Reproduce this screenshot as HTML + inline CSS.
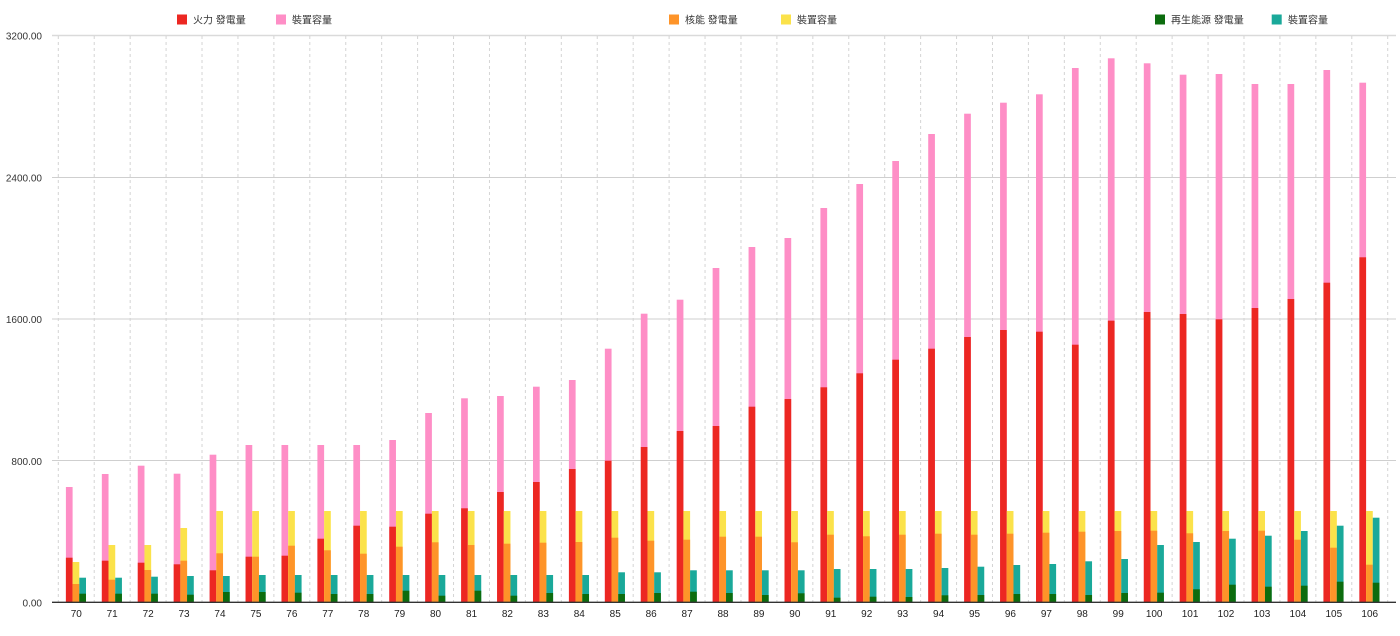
<!DOCTYPE html>
<html><head><meta charset="utf-8"><style>
html,body{margin:0;padding:0;background:#fff;}
body{width:1400px;height:636px;overflow:hidden;}
svg{display:block;font-family:"Liberation Sans","Noto Sans CJK TC",sans-serif;}
.p{fill:#fe8ec6}.r{fill:#ec2722}.y{fill:#fbe24a}.o{fill:#fe9429}.t{fill:#1aa99a}.g{fill:#0c6c0e}
.yl{font-size:10px;fill:#333;text-anchor:end}
.xl{font-size:10px;fill:#222;text-anchor:middle}
.lg{font-size:10px;fill:#333}
</style></head><body>
<svg width="1400" height="636" viewBox="0 0 1400 636" xmlns="http://www.w3.org/2000/svg">
<!-- legend -->
<rect x="177" y="14.5" width="10" height="10" class="r"/><text x="193" y="23.5" class="lg">火力 發電量</text>
<rect x="276" y="14.5" width="10" height="10" class="p"/><text x="292" y="23.5" class="lg">裝置容量</text>
<rect x="669" y="14.5" width="10" height="10" class="o"/><text x="685" y="23.5" class="lg">核能 發電量</text>
<rect x="781" y="14.5" width="10" height="10" class="y"/><text x="797" y="23.5" class="lg">裝置容量</text>
<rect x="1155" y="14.5" width="10" height="10" class="g"/><text x="1171" y="23.5" class="lg">再生能源 發電量</text>
<rect x="1271.7" y="14.5" width="10" height="10" class="t"/><text x="1288" y="23.5" class="lg">裝置容量</text>
<!-- horizontal grid -->
<g stroke="#cfcfcf" stroke-width="1">
<line x1="52" y1="35.5" x2="1396" y2="35.5" stroke="#dadada" stroke-width="1.5"/>
<line x1="52" y1="177.5" x2="1396" y2="177.5"/>
<line x1="52" y1="319" x2="1396" y2="319"/>
<line x1="52" y1="460.5" x2="1396" y2="460.5"/>
</g>
<!-- vertical dashed grid -->
<g stroke="#d4d4d4" stroke-width="1" stroke-dasharray="3,3">
<line x1="58.3" y1="36" x2="58.3" y2="602"/><line x1="94.23" y1="36" x2="94.23" y2="602"/><line x1="130.16" y1="36" x2="130.16" y2="602"/><line x1="166.09" y1="36" x2="166.09" y2="602"/><line x1="202.02" y1="36" x2="202.02" y2="602"/><line x1="237.95" y1="36" x2="237.95" y2="602"/><line x1="273.88" y1="36" x2="273.88" y2="602"/><line x1="309.81" y1="36" x2="309.81" y2="602"/><line x1="345.74" y1="36" x2="345.74" y2="602"/><line x1="381.67" y1="36" x2="381.67" y2="602"/><line x1="417.6" y1="36" x2="417.6" y2="602"/><line x1="453.53" y1="36" x2="453.53" y2="602"/><line x1="489.46" y1="36" x2="489.46" y2="602"/><line x1="525.39" y1="36" x2="525.39" y2="602"/><line x1="561.32" y1="36" x2="561.32" y2="602"/><line x1="597.25" y1="36" x2="597.25" y2="602"/><line x1="633.18" y1="36" x2="633.18" y2="602"/><line x1="669.11" y1="36" x2="669.11" y2="602"/><line x1="705.04" y1="36" x2="705.04" y2="602"/><line x1="740.97" y1="36" x2="740.97" y2="602"/><line x1="776.9" y1="36" x2="776.9" y2="602"/><line x1="812.83" y1="36" x2="812.83" y2="602"/><line x1="848.76" y1="36" x2="848.76" y2="602"/><line x1="884.69" y1="36" x2="884.69" y2="602"/><line x1="920.62" y1="36" x2="920.62" y2="602"/><line x1="956.55" y1="36" x2="956.55" y2="602"/><line x1="992.48" y1="36" x2="992.48" y2="602"/><line x1="1028.41" y1="36" x2="1028.41" y2="602"/><line x1="1064.34" y1="36" x2="1064.34" y2="602"/><line x1="1100.27" y1="36" x2="1100.27" y2="602"/><line x1="1136.2" y1="36" x2="1136.2" y2="602"/><line x1="1172.13" y1="36" x2="1172.13" y2="602"/><line x1="1208.06" y1="36" x2="1208.06" y2="602"/><line x1="1243.99" y1="36" x2="1243.99" y2="602"/><line x1="1279.92" y1="36" x2="1279.92" y2="602"/><line x1="1315.85" y1="36" x2="1315.85" y2="602"/><line x1="1351.78" y1="36" x2="1351.78" y2="602"/><line x1="1387.71" y1="36" x2="1387.71" y2="602"/>
</g>
<!-- bars (flipped groups: y=0 at baseline) -->
<g transform="translate(58.3 602.3) scale(1 -1)"><rect x="7.6" width="6.7" height="115.3" class="p"/><rect x="7.6" width="6.7" height="44.6" class="r"/><rect x="14.3" width="6.7" height="40.3" class="y"/><rect x="14.3" width="6.7" height="18.3" class="o"/><rect x="21" width="6.7" height="24.6" class="t"/><rect x="21" width="6.7" height="8.6" class="g"/></g>
<g transform="translate(94.23 602.3) scale(1 -1)"><rect x="7.6" width="6.7" height="128.3" class="p"/><rect x="7.6" width="6.7" height="41.6" class="r"/><rect x="14.3" width="6.7" height="57.3" class="y"/><rect x="14.3" width="6.7" height="22.6" class="o"/><rect x="21" width="6.7" height="24.6" class="t"/><rect x="21" width="6.7" height="8.6" class="g"/></g>
<g transform="translate(130.16 602.3) scale(1 -1)"><rect x="7.6" width="6.7" height="136.6" class="p"/><rect x="7.6" width="6.7" height="39.6" class="r"/><rect x="14.3" width="6.7" height="57.3" class="y"/><rect x="14.3" width="6.7" height="32.3" class="o"/><rect x="21" width="6.7" height="25.6" class="t"/><rect x="21" width="6.7" height="8.6" class="g"/></g>
<g transform="translate(166.09 602.3) scale(1 -1)"><rect x="7.6" width="6.7" height="128.6" class="p"/><rect x="7.6" width="6.7" height="38" class="r"/><rect x="14.3" width="6.7" height="74.3" class="y"/><rect x="14.3" width="6.7" height="41.6" class="o"/><rect x="21" width="6.7" height="26.3" class="t"/><rect x="21" width="6.7" height="7.6" class="g"/></g>
<g transform="translate(202.02 602.3) scale(1 -1)"><rect x="7.6" width="6.7" height="147.6" class="p"/><rect x="7.6" width="6.7" height="32" class="r"/><rect x="14.3" width="6.7" height="91.3" class="y"/><rect x="14.3" width="6.7" height="49" class="o"/><rect x="21" width="6.7" height="26.3" class="t"/><rect x="21" width="6.7" height="10.3" class="g"/></g>
<g transform="translate(237.95 602.3) scale(1 -1)"><rect x="7.6" width="6.7" height="157.3" class="p"/><rect x="7.6" width="6.7" height="45.6" class="r"/><rect x="14.3" width="6.7" height="91.3" class="y"/><rect x="14.3" width="6.7" height="45.6" class="o"/><rect x="21" width="6.7" height="27.3" class="t"/><rect x="21" width="6.7" height="10.3" class="g"/></g>
<g transform="translate(273.88 602.3) scale(1 -1)"><rect x="7.6" width="6.7" height="157.3" class="p"/><rect x="7.6" width="6.7" height="46.6" class="r"/><rect x="14.3" width="6.7" height="91.3" class="y"/><rect x="14.3" width="6.7" height="56.6" class="o"/><rect x="21" width="6.7" height="27.3" class="t"/><rect x="21" width="6.7" height="9.6" class="g"/></g>
<g transform="translate(309.81 602.3) scale(1 -1)"><rect x="7.6" width="6.7" height="157.3" class="p"/><rect x="7.6" width="6.7" height="63.6" class="r"/><rect x="14.3" width="6.7" height="91.3" class="y"/><rect x="14.3" width="6.7" height="52" class="o"/><rect x="21" width="6.7" height="27.3" class="t"/><rect x="21" width="6.7" height="8.3" class="g"/></g>
<g transform="translate(345.74 602.3) scale(1 -1)"><rect x="7.6" width="6.7" height="157.3" class="p"/><rect x="7.6" width="6.7" height="76.6" class="r"/><rect x="14.3" width="6.7" height="91.3" class="y"/><rect x="14.3" width="6.7" height="48.6" class="o"/><rect x="21" width="6.7" height="27.3" class="t"/><rect x="21" width="6.7" height="8.3" class="g"/></g>
<g transform="translate(381.67 602.3) scale(1 -1)"><rect x="7.6" width="6.7" height="162.3" class="p"/><rect x="7.6" width="6.7" height="75.6" class="r"/><rect x="14.3" width="6.7" height="91.3" class="y"/><rect x="14.3" width="6.7" height="55.6" class="o"/><rect x="21" width="6.7" height="27.3" class="t"/><rect x="21" width="6.7" height="11.6" class="g"/></g>
<g transform="translate(417.6 602.3) scale(1 -1)"><rect x="7.6" width="6.7" height="189.3" class="p"/><rect x="7.6" width="6.7" height="88.6" class="r"/><rect x="14.3" width="6.7" height="91.3" class="y"/><rect x="14.3" width="6.7" height="60" class="o"/><rect x="21" width="6.7" height="27.3" class="t"/><rect x="21" width="6.7" height="6.6" class="g"/></g>
<g transform="translate(453.53 602.3) scale(1 -1)"><rect x="7.6" width="6.7" height="204" class="p"/><rect x="7.6" width="6.7" height="94" class="r"/><rect x="14.3" width="6.7" height="91.3" class="y"/><rect x="14.3" width="6.7" height="57.3" class="o"/><rect x="21" width="6.7" height="27.3" class="t"/><rect x="21" width="6.7" height="11.6" class="g"/></g>
<g transform="translate(489.46 602.3) scale(1 -1)"><rect x="7.6" width="6.7" height="206.3" class="p"/><rect x="7.6" width="6.7" height="110.3" class="r"/><rect x="14.3" width="6.7" height="91.3" class="y"/><rect x="14.3" width="6.7" height="58.6" class="o"/><rect x="21" width="6.7" height="27.3" class="t"/><rect x="21" width="6.7" height="6.6" class="g"/></g>
<g transform="translate(525.39 602.3) scale(1 -1)"><rect x="7.6" width="6.7" height="215.6" class="p"/><rect x="7.6" width="6.7" height="120.3" class="r"/><rect x="14.3" width="6.7" height="91.3" class="y"/><rect x="14.3" width="6.7" height="59.6" class="o"/><rect x="21" width="6.7" height="27.3" class="t"/><rect x="21" width="6.7" height="9.3" class="g"/></g>
<g transform="translate(561.32 602.3) scale(1 -1)"><rect x="7.6" width="6.7" height="222.3" class="p"/><rect x="7.6" width="6.7" height="133.3" class="r"/><rect x="14.3" width="6.7" height="91.3" class="y"/><rect x="14.3" width="6.7" height="60.3" class="o"/><rect x="21" width="6.7" height="27.3" class="t"/><rect x="21" width="6.7" height="8.3" class="g"/></g>
<g transform="translate(597.25 602.3) scale(1 -1)"><rect x="7.6" width="6.7" height="253.6" class="p"/><rect x="7.6" width="6.7" height="141.6" class="r"/><rect x="14.3" width="6.7" height="91.3" class="y"/><rect x="14.3" width="6.7" height="64.6" class="o"/><rect x="21" width="6.7" height="30" class="t"/><rect x="21" width="6.7" height="8.3" class="g"/></g>
<g transform="translate(633.18 602.3) scale(1 -1)"><rect x="7.6" width="6.7" height="288.6" class="p"/><rect x="7.6" width="6.7" height="155.3" class="r"/><rect x="14.3" width="6.7" height="91.3" class="y"/><rect x="14.3" width="6.7" height="61.6" class="o"/><rect x="21" width="6.7" height="30" class="t"/><rect x="21" width="6.7" height="9.3" class="g"/></g>
<g transform="translate(669.11 602.3) scale(1 -1)"><rect x="7.6" width="6.7" height="302.6" class="p"/><rect x="7.6" width="6.7" height="171.3" class="r"/><rect x="14.3" width="6.7" height="91.3" class="y"/><rect x="14.3" width="6.7" height="62.6" class="o"/><rect x="21" width="6.7" height="32" class="t"/><rect x="21" width="6.7" height="10.6" class="g"/></g>
<g transform="translate(705.04 602.3) scale(1 -1)"><rect x="7.6" width="6.7" height="334.3" class="p"/><rect x="7.6" width="6.7" height="176.3" class="r"/><rect x="14.3" width="6.7" height="91.3" class="y"/><rect x="14.3" width="6.7" height="65.6" class="o"/><rect x="21" width="6.7" height="32" class="t"/><rect x="21" width="6.7" height="9.3" class="g"/></g>
<g transform="translate(740.97 602.3) scale(1 -1)"><rect x="7.6" width="6.7" height="355.3" class="p"/><rect x="7.6" width="6.7" height="195.6" class="r"/><rect x="14.3" width="6.7" height="91.3" class="y"/><rect x="14.3" width="6.7" height="65.6" class="o"/><rect x="21" width="6.7" height="32" class="t"/><rect x="21" width="6.7" height="7.3" class="g"/></g>
<g transform="translate(776.9 602.3) scale(1 -1)"><rect x="7.6" width="6.7" height="364.3" class="p"/><rect x="7.6" width="6.7" height="203.3" class="r"/><rect x="14.3" width="6.7" height="91.3" class="y"/><rect x="14.3" width="6.7" height="60" class="o"/><rect x="21" width="6.7" height="32" class="t"/><rect x="21" width="6.7" height="9" class="g"/></g>
<g transform="translate(812.83 602.3) scale(1 -1)"><rect x="7.6" width="6.7" height="394.3" class="p"/><rect x="7.6" width="6.7" height="215" class="r"/><rect x="14.3" width="6.7" height="91.3" class="y"/><rect x="14.3" width="6.7" height="67.6" class="o"/><rect x="21" width="6.7" height="33.3" class="t"/><rect x="21" width="6.7" height="4.6" class="g"/></g>
<g transform="translate(848.76 602.3) scale(1 -1)"><rect x="7.6" width="6.7" height="418.3" class="p"/><rect x="7.6" width="6.7" height="229" class="r"/><rect x="14.3" width="6.7" height="91.3" class="y"/><rect x="14.3" width="6.7" height="66" class="o"/><rect x="21" width="6.7" height="33.3" class="t"/><rect x="21" width="6.7" height="5.6" class="g"/></g>
<g transform="translate(884.69 602.3) scale(1 -1)"><rect x="7.6" width="6.7" height="441.3" class="p"/><rect x="7.6" width="6.7" height="242.6" class="r"/><rect x="14.3" width="6.7" height="91.3" class="y"/><rect x="14.3" width="6.7" height="67.6" class="o"/><rect x="21" width="6.7" height="33.3" class="t"/><rect x="21" width="6.7" height="5.3" class="g"/></g>
<g transform="translate(920.62 602.3) scale(1 -1)"><rect x="7.6" width="6.7" height="468.3" class="p"/><rect x="7.6" width="6.7" height="253.6" class="r"/><rect x="14.3" width="6.7" height="91.3" class="y"/><rect x="14.3" width="6.7" height="68.6" class="o"/><rect x="21" width="6.7" height="34.3" class="t"/><rect x="21" width="6.7" height="7" class="g"/></g>
<g transform="translate(956.55 602.3) scale(1 -1)"><rect x="7.6" width="6.7" height="488.6" class="p"/><rect x="7.6" width="6.7" height="265.3" class="r"/><rect x="14.3" width="6.7" height="91.3" class="y"/><rect x="14.3" width="6.7" height="67.6" class="o"/><rect x="21" width="6.7" height="35.6" class="t"/><rect x="21" width="6.7" height="7.3" class="g"/></g>
<g transform="translate(992.48 602.3) scale(1 -1)"><rect x="7.6" width="6.7" height="499.6" class="p"/><rect x="7.6" width="6.7" height="272.3" class="r"/><rect x="14.3" width="6.7" height="91.3" class="y"/><rect x="14.3" width="6.7" height="68.6" class="o"/><rect x="21" width="6.7" height="37.3" class="t"/><rect x="21" width="6.7" height="8.3" class="g"/></g>
<g transform="translate(1028.41 602.3) scale(1 -1)"><rect x="7.6" width="6.7" height="508" class="p"/><rect x="7.6" width="6.7" height="270.6" class="r"/><rect x="14.3" width="6.7" height="91.3" class="y"/><rect x="14.3" width="6.7" height="69.6" class="o"/><rect x="21" width="6.7" height="38.3" class="t"/><rect x="21" width="6.7" height="8.3" class="g"/></g>
<g transform="translate(1064.34 602.3) scale(1 -1)"><rect x="7.6" width="6.7" height="534.3" class="p"/><rect x="7.6" width="6.7" height="257.6" class="r"/><rect x="14.3" width="6.7" height="91.3" class="y"/><rect x="14.3" width="6.7" height="70.6" class="o"/><rect x="21" width="6.7" height="41" class="t"/><rect x="21" width="6.7" height="7.3" class="g"/></g>
<g transform="translate(1100.27 602.3) scale(1 -1)"><rect x="7.6" width="6.7" height="544" class="p"/><rect x="7.6" width="6.7" height="281.6" class="r"/><rect x="14.3" width="6.7" height="91.3" class="y"/><rect x="14.3" width="6.7" height="71.3" class="o"/><rect x="21" width="6.7" height="43.3" class="t"/><rect x="21" width="6.7" height="9.3" class="g"/></g>
<g transform="translate(1136.2 602.3) scale(1 -1)"><rect x="7.6" width="6.7" height="539" class="p"/><rect x="7.6" width="6.7" height="290.3" class="r"/><rect x="14.3" width="6.7" height="91.3" class="y"/><rect x="14.3" width="6.7" height="71.6" class="o"/><rect x="21" width="6.7" height="57.3" class="t"/><rect x="21" width="6.7" height="9.6" class="g"/></g>
<g transform="translate(1172.13 602.3) scale(1 -1)"><rect x="7.6" width="6.7" height="527.6" class="p"/><rect x="7.6" width="6.7" height="288.3" class="r"/><rect x="14.3" width="6.7" height="91.3" class="y"/><rect x="14.3" width="6.7" height="69" class="o"/><rect x="21" width="6.7" height="60.3" class="t"/><rect x="21" width="6.7" height="13" class="g"/></g>
<g transform="translate(1208.06 602.3) scale(1 -1)"><rect x="7.6" width="6.7" height="528.3" class="p"/><rect x="7.6" width="6.7" height="283" class="r"/><rect x="14.3" width="6.7" height="91.3" class="y"/><rect x="14.3" width="6.7" height="71.3" class="o"/><rect x="21" width="6.7" height="63.6" class="t"/><rect x="21" width="6.7" height="17.6" class="g"/></g>
<g transform="translate(1243.99 602.3) scale(1 -1)"><rect x="7.6" width="6.7" height="518.3" class="p"/><rect x="7.6" width="6.7" height="294.3" class="r"/><rect x="14.3" width="6.7" height="91.3" class="y"/><rect x="14.3" width="6.7" height="71.6" class="o"/><rect x="21" width="6.7" height="66.6" class="t"/><rect x="21" width="6.7" height="15.6" class="g"/></g>
<g transform="translate(1279.92 602.3) scale(1 -1)"><rect x="7.6" width="6.7" height="518.3" class="p"/><rect x="7.6" width="6.7" height="303.3" class="r"/><rect x="14.3" width="6.7" height="91.3" class="y"/><rect x="14.3" width="6.7" height="62.6" class="o"/><rect x="21" width="6.7" height="71.3" class="t"/><rect x="21" width="6.7" height="16.6" class="g"/></g>
<g transform="translate(1315.85 602.3) scale(1 -1)"><rect x="7.6" width="6.7" height="532.3" class="p"/><rect x="7.6" width="6.7" height="319.6" class="r"/><rect x="14.3" width="6.7" height="91.3" class="y"/><rect x="14.3" width="6.7" height="54.6" class="o"/><rect x="21" width="6.7" height="76.6" class="t"/><rect x="21" width="6.7" height="20.6" class="g"/></g>
<g transform="translate(1351.78 602.3) scale(1 -1)"><rect x="7.6" width="6.7" height="519.6" class="p"/><rect x="7.6" width="6.7" height="345" class="r"/><rect x="14.3" width="6.7" height="91.3" class="y"/><rect x="14.3" width="6.7" height="37.6" class="o"/><rect x="21" width="6.7" height="84.6" class="t"/><rect x="21" width="6.7" height="19.6" class="g"/></g>
<!-- baseline -->
<line x1="52" y1="602.3" x2="1396" y2="602.3" stroke="#333" stroke-width="1.4"/>
<!-- y labels -->
<text x="42" y="39.5" class="yl">3200.00</text>
<text x="42" y="181.3" class="yl">2400.00</text>
<text x="42" y="323" class="yl">1600.00</text>
<text x="42" y="464.8" class="yl">800.00</text>
<text x="42" y="606.3" class="yl">0.00</text>
<!-- x labels -->
<text x="76.27" y="617" class="xl">70</text><text x="112.2" y="617" class="xl">71</text><text x="148.13" y="617" class="xl">72</text><text x="184.06" y="617" class="xl">73</text><text x="219.99" y="617" class="xl">74</text><text x="255.92" y="617" class="xl">75</text><text x="291.85" y="617" class="xl">76</text><text x="327.78" y="617" class="xl">77</text><text x="363.71" y="617" class="xl">78</text><text x="399.64" y="617" class="xl">79</text><text x="435.57" y="617" class="xl">80</text><text x="471.5" y="617" class="xl">81</text><text x="507.43" y="617" class="xl">82</text><text x="543.36" y="617" class="xl">83</text><text x="579.29" y="617" class="xl">84</text><text x="615.22" y="617" class="xl">85</text><text x="651.15" y="617" class="xl">86</text><text x="687.08" y="617" class="xl">87</text><text x="723.01" y="617" class="xl">88</text><text x="758.94" y="617" class="xl">89</text><text x="794.87" y="617" class="xl">90</text><text x="830.8" y="617" class="xl">91</text><text x="866.73" y="617" class="xl">92</text><text x="902.66" y="617" class="xl">93</text><text x="938.59" y="617" class="xl">94</text><text x="974.52" y="617" class="xl">95</text><text x="1010.45" y="617" class="xl">96</text><text x="1046.38" y="617" class="xl">97</text><text x="1082.31" y="617" class="xl">98</text><text x="1118.24" y="617" class="xl">99</text><text x="1154.17" y="617" class="xl">100</text><text x="1190.1" y="617" class="xl">101</text><text x="1226.03" y="617" class="xl">102</text><text x="1261.96" y="617" class="xl">103</text><text x="1297.89" y="617" class="xl">104</text><text x="1333.82" y="617" class="xl">105</text><text x="1369.75" y="617" class="xl">106</text>
</svg>
</body></html>
